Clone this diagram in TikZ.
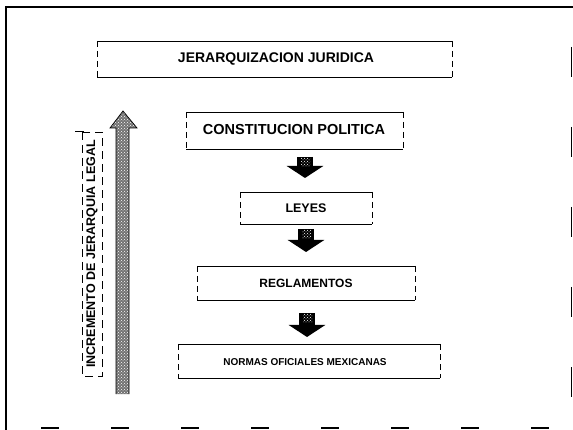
\documentclass[tikz,border=0pt]{standalone}
\usepackage{fontspec}
\setmainfont{Liberation Sans}
\usetikzlibrary{patterns,arrows.meta,calc}
\tikzset{
  lbl/.style={font=\bfseries, inner sep=0pt},
  boxtb/.style={line width=0.9pt, black},
  boxside/.style={line width=0.7pt, black, dash pattern=on 6pt off 4pt},
  blockarrow/.style={line width=16pt, black, -{Triangle[width=36pt,length=12pt]}},
  stipple/.style={pattern=crosshatch dots, pattern color=white}
}
\begin{document}
\begin{tikzpicture}[x=1pt,y=-1pt]
\useasboundingbox (0,0) rectangle (573,430);
% frame
\draw[line width=1.4pt] (6,430) -- (6,7) -- (573,7);
\draw[line width=1.2pt, dash pattern=on 18pt off 52pt, dash phase=-35pt] (6,428) -- (573,428);
\draw[line width=1pt, dash pattern=on 30pt off 50pt, dash phase=-120pt] (571,7) -- (571,428);
% boxes
\node[lbl, font=\fontsize{14}{16}\bfseries\selectfont] (title) at (276,59) {JERARQUIZACION JURIDICA};
\coordinate (titleNW) at (97,41); \coordinate (titleSE) at (452,77);
\node[lbl, font=\fontsize{14.5}{16}\bfseries\selectfont] (cons) at (294,130) {CONSTITUCION POLITICA};
\coordinate (consNW) at (186,112); \coordinate (consSE) at (403,149);
\node[lbl, font=\fontsize{12.5}{14}\bfseries\selectfont] (leyes) at (306,208) {LEYES};
\coordinate (leyesNW) at (240,192); \coordinate (leyesSE) at (372,224);
\node[lbl, font=\fontsize{12}{14}\bfseries\selectfont] (regl) at (306,283) {REGLAMENTOS};
\coordinate (reglNW) at (197,266); \coordinate (reglSE) at (415,300);
\node[lbl, font=\fontsize{10}{12}\bfseries\selectfont] (norm) at (305,362) {NORMAS OFICIALES MEXICANAS};
\coordinate (normNW) at (178,344); \coordinate (normSE) at (440,378);
\foreach \b in {title,cons,leyes,regl,norm}{
  \draw[boxtb] (\b NW) -- (\b SE |- \b NW);
  \draw[boxtb] (\b NW |- \b SE) -- (\b SE);
  \draw[boxside] (\b NW) -- (\b NW |- \b SE);
  \draw[boxside] (\b SE |- \b NW) -- (\b SE);
}
% down block arrows
\coordinate (a1s) at (305,157); \coordinate (a1e) at (305,178);
\coordinate (a2s) at (306,229); \coordinate (a2e) at (306,252);
\coordinate (a3s) at (307,313); \coordinate (a3e) at (307,337);
\foreach \a in {a1,a2,a3}{
  \draw[blockarrow] (\a s) -- (\a e);
  \fill[stipple] ($(\a s)+(-4,1)$) rectangle ($(\a s)+(5,10)$);
}
% vertical label
\node[lbl, rotate=90, font=\fontsize{12.5}{14}\bfseries\selectfont] (inc) at (92,254) {INCREMENTO DE JERARQUIA LEGAL};
\draw[line width=0.7pt, dash pattern=on 8pt off 5pt] (82,132) rectangle (102,376);
\draw[line width=0.8pt] (75,131) -- (84,131);
% hatched up arrow
\fill[black!55] (116,394) -- (116,128) -- (110,128) -- (123,111) -- (137,128) -- (129,128) -- (129,394) -- cycle;
\fill[pattern=crosshatch dots, pattern color=white] (116,394) -- (116,128) -- (110,128) -- (123,111) -- (137,128) -- (129,128) -- (129,394) -- cycle;
\draw[line width=0.7pt] (116,394) -- (116,128) -- (110,128) -- (123,111) -- (137,128) -- (129,128) -- (129,394);
\end{tikzpicture}
\end{document}
